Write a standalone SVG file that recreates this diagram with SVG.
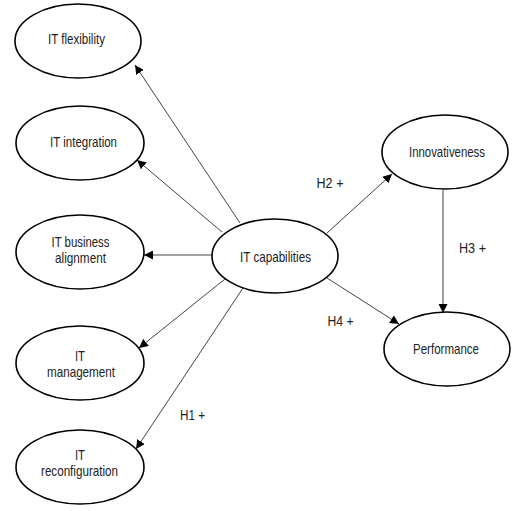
<svg xmlns="http://www.w3.org/2000/svg" width="518" height="511" viewBox="0 0 518 511">
<style>
.node ellipse{fill:#fff;stroke:#000;stroke-width:1.6}
text{font-family:"Liberation Sans",Arial,sans-serif;font-size:15px;fill:#222;text-anchor:middle}
.edge{stroke:#444;stroke-width:1;fill:none;marker-end:url(#ah)}
</style>
<defs>
<marker id="ah" viewBox="0 0 10 10" refX="10" refY="5" markerWidth="9" markerHeight="9" markerUnits="userSpaceOnUse" orient="auto">
<path d="M0,0 L10,5 L0,10 z" fill="#000"/>
</marker>
</defs>
<rect width="518" height="511" fill="#fff"/>
<g id="connectors">
<line class="edge" x1="240" y1="223" x2="135" y2="65"/>
<line class="edge" x1="222" y1="232" x2="137" y2="160"/>
<line class="edge" x1="212" y1="255" x2="144" y2="255"/>
<line class="edge" x1="225" y1="279" x2="139" y2="348"/>
<line class="edge" x1="243" y1="288" x2="136" y2="449"/>
<line class="edge" x1="327" y1="233" x2="392" y2="174"/>
<line class="edge" x1="327" y1="278" x2="399" y2="324"/>
<line class="edge" x1="443" y1="190" x2="443" y2="313"/>
<text x="192.5" y="420" textLength="25" lengthAdjust="spacingAndGlyphs">H1 +</text>
<text x="330" y="188" textLength="27" lengthAdjust="spacingAndGlyphs">H2 +</text>
<text x="472.5" y="253" textLength="27" lengthAdjust="spacingAndGlyphs">H3 +</text>
<text x="340.5" y="326" textLength="26" lengthAdjust="spacingAndGlyphs">H4 +</text>
</g>
<g id="it-flexibility" class="node"><ellipse cx="78" cy="41" rx="63" ry="37"/><text x="76.5" y="44" textLength="57" lengthAdjust="spacingAndGlyphs">IT flexibility</text></g>
<g id="it-integration" class="node"><ellipse cx="80" cy="143" rx="64" ry="37"/><text x="83.5" y="147" textLength="67" lengthAdjust="spacingAndGlyphs">IT integration</text></g>
<g id="it-business-alignment" class="node"><ellipse cx="80" cy="252" rx="64" ry="37"/><text x="80.5" y="247" textLength="58" lengthAdjust="spacingAndGlyphs">IT business</text><text x="80.5" y="263" textLength="51" lengthAdjust="spacingAndGlyphs">alignment</text></g>
<g id="it-management" class="node"><ellipse cx="80" cy="363" rx="64" ry="37"/><text x="80" y="361" textLength="10" lengthAdjust="spacingAndGlyphs">IT</text><text x="81" y="377" textLength="68" lengthAdjust="spacingAndGlyphs">management</text></g>
<g id="it-reconfiguration" class="node"><ellipse cx="80" cy="467" rx="64" ry="37"/><text x="80" y="460" textLength="10" lengthAdjust="spacingAndGlyphs">IT</text><text x="79.5" y="476" textLength="77" lengthAdjust="spacingAndGlyphs">reconfiguration</text></g>
<g id="it-capabilities" class="node"><ellipse cx="275" cy="256" rx="63" ry="37"/><text x="275.5" y="262" textLength="71" lengthAdjust="spacingAndGlyphs">IT capabilities</text></g>
<g id="innovativeness" class="node"><ellipse cx="445" cy="152" rx="63" ry="37"/><text x="447" y="157" textLength="76" lengthAdjust="spacingAndGlyphs">Innovativeness</text></g>
<g id="performance" class="node"><ellipse cx="447" cy="349" rx="63" ry="37"/><text x="446" y="354" textLength="66" lengthAdjust="spacingAndGlyphs">Performance</text></g>
</svg>
